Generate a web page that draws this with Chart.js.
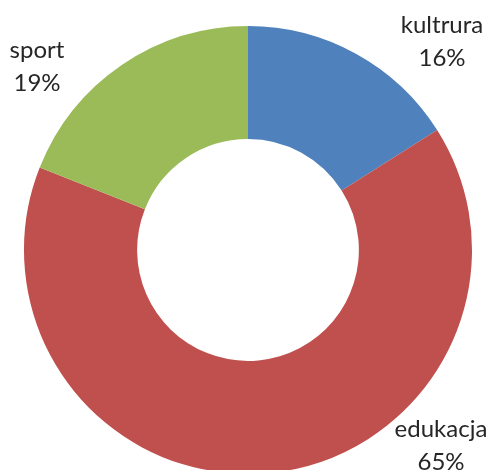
<!DOCTYPE html>
<html>
<head>
<meta charset="utf-8">
<script src="https://cdn.jsdelivr.net/npm/chart.js@4/dist/chart.umd.min.js"></script>
<style>
  html, body { margin: 0; padding: 0; background: #fff; overflow: hidden; }
  #wrap { width: 492px; height: 476px; }
</style>
</head>
<body>
<div id="wrap"><canvas id="myChart" width="492" height="476"></canvas></div>
<script>
// dane wykresu
const categories = ['kultrura', 'edukacja', 'sport'];
const shares = [16, 65, 19];
const colors = ['#4F81BD', '#C0504D', '#9BBB59'];

// etykiety obok pierścienia (przesunięcie względem środka)
const labelPlugin = {
  id: 'outerLabels',
  afterDraw(chart) {
    const ctx = chart.ctx;
    const arc = chart.getDatasetMeta(0).data[0];
    const cx = arc.x, cy = arc.y;
    const offsets = [[194, -217], [193, 187], [-211, -192]];
    ctx.save();
    ctx.font = '24px Lato';
    ctx.fillStyle = '#262626';
    ctx.textAlign = 'center';
    ctx.textBaseline = 'alphabetic';
    categories.forEach((name, i) => {
      const [dx, dy] = offsets[i];
      ctx.fillText(name, cx + dx, cy + dy);
      ctx.fillText(shares[i] + '%', cx + dx, cy + dy + 33);
    });
    ctx.restore();
  }
};

const ctx = document.getElementById('myChart').getContext('2d');
new Chart(ctx, {
  type: 'doughnut',
  data: {
    labels: categories,
    datasets: [{
      data: shares,
      backgroundColor: colors,
      borderWidth: 0
    }]
  },
  options: {
    responsive: false,
    animation: false,
    cutout: '49.5%',
    layout: { padding: { left: 24, right: 20, top: 26, bottom: 2 } },
    plugins: { legend: { display: false }, tooltip: { enabled: false } }
  },
  plugins: [labelPlugin]
});
</script>
</body>
</html>
